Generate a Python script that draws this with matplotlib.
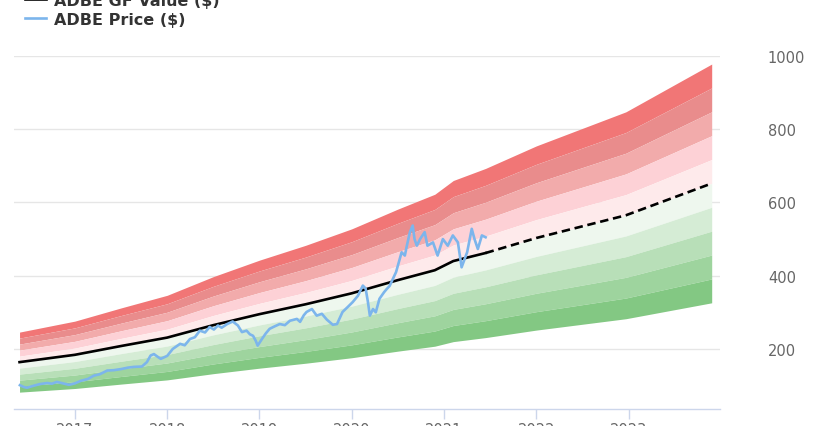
import matplotlib
matplotlib.use('Agg')
import matplotlib.pyplot as plt

# GF Value line, solid up to last price date, dashed after
gf_years = [2016.40, 2017.0, 2017.5, 2018.0, 2018.5, 2019.0, 2019.5, 2020.0,
            2020.5, 2020.9, 2021.1, 2021.45, 2022.0, 2022.97, 2023.90]
gf_values = [164, 184, 208, 231, 265, 295, 322, 352,
             388, 415, 440, 462, 503, 565, 652]
gf_split = 2021.45

# band multipliers around GF Value (outer red -> outer green)
band_levels = [1.5, 1.4, 1.3, 1.2, 1.1, 1.0, 0.9, 0.8, 0.7, 0.6, 0.5]
band_colors = ['#f17676', '#e98c8c', '#f2abab', '#fdd1d6', '#feeaeb',
               '#eef7ee', '#d5ecd5', '#b8dfb8', '#9ed49e', '#83c883']

# ADBE price
price_years = [2016.404, 2016.447, 2016.48, 2016.545, 2016.62, 2016.70, 2016.75, 2016.805,
               2016.87, 2016.935, 2017.0, 2017.065, 2017.14, 2017.205, 2017.27, 2017.35,
               2017.42, 2017.50, 2017.575, 2017.64, 2017.726, 2017.78, 2017.82, 2017.856,
               2017.90, 2017.93, 2018.0, 2018.06, 2018.14, 2018.19, 2018.246, 2018.30,
               2018.354, 2018.41, 2018.46, 2018.506, 2018.55, 2018.59, 2018.65, 2018.71,
               2018.766, 2018.81, 2018.86, 2018.896, 2018.93, 2018.96, 2018.98, 2019.026,
               2019.07, 2019.11, 2019.167, 2019.22, 2019.275, 2019.33, 2019.405, 2019.44,
               2019.48, 2019.51, 2019.568, 2019.62, 2019.676, 2019.73, 2019.795, 2019.84,
               2019.90, 2019.958, 2020.01, 2020.066, 2020.12, 2020.15, 2020.174, 2020.196,
               2020.23, 2020.26, 2020.30, 2020.35, 2020.38, 2020.41, 2020.445, 2020.48,
               2020.50, 2020.52, 2020.54, 2020.575, 2020.597, 2020.63, 2020.66, 2020.68,
               2020.705, 2020.74, 2020.79, 2020.82, 2020.88, 2020.93, 2020.987, 2021.04,
               2021.095, 2021.15, 2021.19, 2021.25, 2021.30, 2021.33, 2021.366, 2021.41,
               2021.45]
price_values = [101, 96, 94, 99, 104, 107, 105, 110,
                106, 102, 106, 113, 118, 127, 131, 141,
                142, 145, 149, 151, 152, 164, 182, 186,
                178, 173, 181, 200, 214, 210, 227, 232,
                250, 245, 260, 253, 264, 258, 268, 275,
                264, 246, 250, 240, 236, 222, 209, 227,
                243, 255, 262, 268, 265, 277, 282, 274,
                292, 301, 309, 291, 296, 280, 266, 268,
                301, 315, 328, 345, 373, 365, 330, 291,
                309, 300, 337, 355, 364, 372, 391, 410,
                428, 446, 464, 455, 482, 519, 537, 500,
                482, 500, 519, 482, 491, 455, 500, 482,
                510, 491, 423, 464, 528, 500, 473, 510,
                505]

year_ticks = [2017, 2018, 2019, 2020, 2021, 2022, 2023]
value_ticks = [200, 400, 600, 800, 1000]

fig = plt.figure(figsize=(8.2, 4.27), dpi=100)
ax = fig.add_axes([14 / 820, 17 / 427, 706 / 820, 353 / 427])

# bands
for i, color in enumerate(band_colors):
    upper = [v * band_levels[i] for v in gf_values]
    lower = [v * band_levels[i + 1] for v in gf_values]
    ax.fill_between(gf_years, lower, upper, color=color, lw=0, zorder=1)

# GF value line
hist_x = [y for y in gf_years if y <= gf_split]
hist_y = [v for y, v in zip(gf_years, gf_values) if y <= gf_split]
fut_x = [y for y in gf_years if y >= gf_split]
fut_y = [v for y, v in zip(gf_years, gf_values) if y >= gf_split]
gf_line, = ax.plot(hist_x, hist_y, color='black', lw=1.9, zorder=3, label='ADBE GF Value ($)')
ax.plot(fut_x, fut_y, color='black', lw=1.9, ls=(0, (3.2, 1.8)), zorder=3)

# price
price_line, = ax.plot(price_years, price_values, color='#7cb5ec', lw=1.9, zorder=4,
                      label='ADBE Price ($)')

ax.set_xlim(2016.34, 2023.99)
ax.set_ylim(36, 1000)
ax.set_xticks(year_ticks)
ax.set_xticklabels([str(y) for y in year_ticks])
ax.set_yticks(value_ticks)
ax.yaxis.tick_right()
ax.grid(axis='y', color='#e6e6e6', lw=1, zorder=0)
ax.set_axisbelow(True)
for side in ['top', 'left', 'right']:
    ax.spines[side].set_visible(False)
ax.spines['bottom'].set_color('#ccd6eb')
ax.spines['bottom'].set_linewidth(1)
ax.tick_params(axis='y', length=0, pad=34.5, labelsize=10.5, labelcolor='#666666')
ax.tick_params(axis='x', length=7.5, width=1, color='#ccd6eb', pad=2,
               labelsize=10.5, labelcolor='#666666')

ax.legend(handles=[gf_line, price_line], loc='upper left',
          bbox_to_anchor=(25 / 820, 1 + 6 / 427), bbox_transform=fig.transFigure,
          frameon=False, borderpad=0, borderaxespad=0, handlelength=1.3,
          handletextpad=0.5, labelspacing=0.25,
          prop={'weight': 'bold', 'size': 11.5}, labelcolor='#333333')

fig.savefig('out.png', dpi=100)
